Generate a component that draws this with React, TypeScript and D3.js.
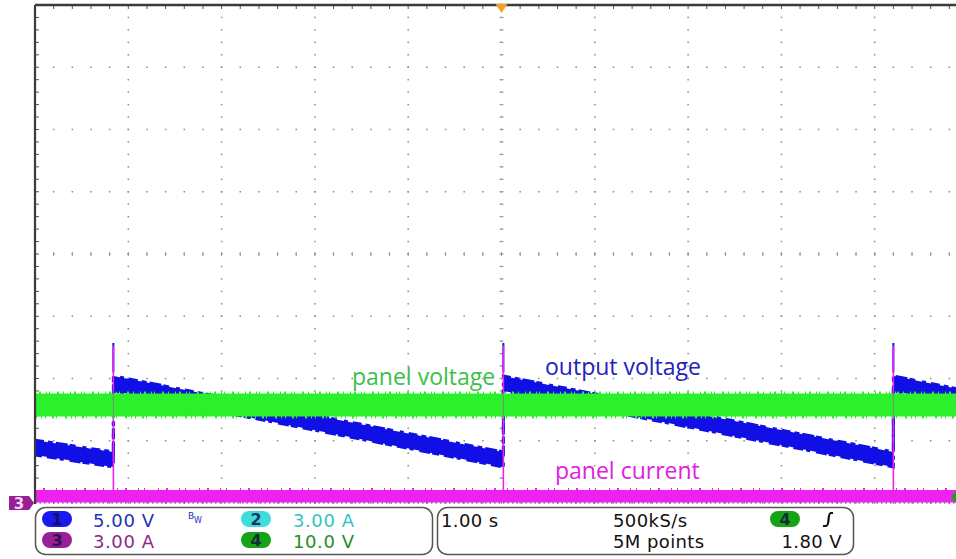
import React from "react";
import * as d3 from "d3";

// ---- data (screen divisions, time in seconds; 1.00 s/div) ----
const resetTimes = [-4.16, 0.02, 4.2];

const outputTime = [-5, -4.16, -4.16, 0.02, 0.02, 4.2, 4.2, 5];
const outputHigh = [-2.99, -3.18, -1.96, -3.18, -1.96, -3.18, -1.96, -2.2];
const outputLow = [-3.23, -3.42, -2.2, -3.42, -2.2, -3.42, -2.2, -2.44];
const outputSpike = -1.43;

const panelVoltageTime = [-5, 5];
const panelVoltageHigh = [-2.24, -2.24];
const panelVoltageLow = [-2.61, -2.61];

const panelCurrentTime = [-5, 5];
const panelCurrentHigh = [-3.79, -3.79];
const panelCurrentLow = [-3.99, -3.99];
const panelCurrentSpike = -1.47;

const channelScales = [
  { ch: "1", label: "5.00 V", fill: "#1a1aee", text: "#2233bb" },
  { ch: "2", label: "3.00 A", fill: "#3fdcdc", text: "#33c4c4" },
  { ch: "3", label: "3.00 A", fill: "#9a1f96", text: "#8c2a88" },
  { ch: "4", label: "10.0 V", fill: "#16a316", text: "#1f8f1f" },
];
const timeBase = "1.00 s";
const sampleRate = "500kS/s";
const recordLength = "5M points";
const triggerLevel = "1.80 V";

// ---- layout ----
const W = 956;
const H = 559;
const PX0 = 35;
const DIVW = 93.3;
const PY0 = 5;
const DIVH = 62.25;

const x = d3.scaleLinear().domain([-5, 5]).range([PX0, PX0 + 10 * DIVW]);
const y = d3.scaleLinear().domain([4, -4]).range([PY0, PY0 + 8 * DIVH]);

const BLUE = "#0f0fe6";
const GREEN = "#2bf02b";
const MAGENTA = "#ee22ee";

function bandPath(t: number[], hi: number[], lo: number[]) {
  const area = d3
    .area<number>()
    .x((i) => x(t[i]))
    .y0((i) => y(lo[i]))
    .y1((i) => y(hi[i]));
  return area(d3.range(t.length)) || "";
}
function edgePath(t: number[], v: number[]) {
  const line = d3
    .line<number>()
    .x((i) => x(t[i]))
    .y((i) => y(v[i]));
  return line(d3.range(t.length)) || "";
}

export default function App() {
  const right = W;
  const bottom = y(-4);
  const dots: JSX.Element[] = [];
  for (let d = -4; d <= 5; d++) {
    const xv = x(d);
    if (xv > right) continue;
    for (let m = 1; m < 40; m++) {
      const yv = y(4 - m / 5);
      dots.push(<rect key={`v${d}_${m}`} x={xv - 0.75} y={yv - 0.75} width={1.5} height={1.5} fill="#8a8a8a" />);
    }
  }
  for (let r = 3; r >= -4; r--) {
    const yv = y(r);
    for (let m = 1; m < 50; m++) {
      const xv = x(-5 + m / 5);
      if (xv > right) continue;
      dots.push(<rect key={`h${r}_${m}`} x={xv - 0.75} y={yv - 0.75} width={1.5} height={1.5} fill="#8a8a8a" />);
    }
  }
  const ticks: JSX.Element[] = [];
  for (let m = 1; m < 40; m++) {
    const yv = y(4 - m / 5);
    ticks.push(<line key={`lt${m}`} x1={PX0} x2={PX0 + 4} y1={yv} y2={yv} stroke="#555" strokeWidth={1} />);
    ticks.push(<line key={`ct${m}`} x1={x(0) - 2} x2={x(0) + 2} y1={yv} y2={yv} stroke="#999" strokeWidth={1} />);
  }
  for (let m = 1; m < 50; m++) {
    const xv = x(-5 + m / 5);
    if (xv > right) continue;
    ticks.push(<line key={`tt${m}`} x1={xv} x2={xv} y1={PY0} y2={PY0 + 4} stroke="#555" strokeWidth={1} />);
    ticks.push(<line key={`cht${m}`} x1={xv} x2={xv} y1={y(0) - 2} y2={y(0) + 2} stroke="#999" strokeWidth={1} />);
  }

  const legendFont = "'DejaVu Sans', Verdana, sans-serif";
  const annFont = "'Open Sans', 'Noto Sans', sans-serif";

  const oval = (cx: number, cy: number, fill: string, label: string) => (
    <g>
      <rect x={cx - 15} y={cy - 8} width={30} height={16} rx={8} fill={fill} />
      <text x={cx} y={cy + 6} textAnchor="middle" fontSize={16} fontWeight="bold" fill="#101040" fontFamily={legendFont} style={{ opacity: 0.8 }}>
        {label}
      </text>
    </g>
  );

  return (
    <svg width={W} height={H} style={{ position: "absolute", left: 0, top: 0, background: "#fff" }}>
      <defs>
        <clipPath id="plot">
          <rect x={PX0} y={PY0} width={right - PX0} height={bottom - PY0 + 2} />
        </clipPath>
      </defs>
      <rect x={0} y={0} width={W} height={H} fill="#fff" />
      {dots}
      {ticks}
      <g clipPath="url(#plot)">
        {/* output voltage (ch1) */}
        {resetTimes.map((t, i) => (
          <line key={`bs${i}`} x1={x(t)} x2={x(t)} y1={y(outputSpike)} y2={y(-1.9)} stroke={BLUE} strokeWidth={2} />
        ))}
        <path d={bandPath(outputTime, outputHigh, outputLow)} fill={BLUE} />
        <path d={edgePath(outputTime, outputHigh)} fill="none" stroke={BLUE} strokeWidth={3} strokeDasharray="9 4 5 3 12 2 6 7 4 5" />
        <path d={edgePath(outputTime, outputLow)} fill="none" stroke={BLUE} strokeWidth={3} strokeDasharray="7 5 10 3 4 6 11 2" />
        {/* panel current (ch3) */}
        {resetTimes.map((t, i) => (
          <line key={`ms${i}`} x1={x(t)} x2={x(t)} y1={y(panelCurrentSpike)} y2={y(-3.8)} stroke={MAGENTA} strokeWidth={1.6} />
        ))}
        <path d={bandPath(panelCurrentTime, panelCurrentHigh, panelCurrentLow)} fill={MAGENTA} />
        <path d={edgePath(panelCurrentTime, panelCurrentHigh)} fill="none" stroke={MAGENTA} strokeWidth={4} strokeDasharray="1 7 2 11 1 5 1 13" />
        {/* panel voltage (ch4) */}
        <path d={bandPath(panelVoltageTime, panelVoltageHigh, panelVoltageLow)} fill={GREEN} />
        <path d={edgePath(panelVoltageTime, panelVoltageHigh)} fill="none" stroke={GREEN} strokeWidth={4} strokeDasharray="1 3 2 5 1 2 1 7 2 4 1 6" />
        <path d={edgePath(panelVoltageTime, panelVoltageLow)} fill="none" stroke={GREEN} strokeWidth={4} strokeDasharray="2 4 1 3 1 6 2 2 1 8" />
        {resetTimes.map((t, i) => (
          <line key={`ms2${i}`} x1={x(t)} x2={x(t)} y1={y(-2.2)} y2={y(-2.65)} stroke="#9a5f9a" strokeWidth={1.2} opacity={0.55} />
        ))}
        <line x1={PX0} x2={right} y1={bottom} y2={bottom} stroke="#6a2a9a" strokeWidth={1} strokeDasharray="1.5 3" />
      </g>
      {/* borders */}
      <line x1={PX0} x2={right} y1={PY0} y2={PY0} stroke="#3a3a3a" strokeWidth={2.4} />
      <line x1={PX0} x2={PX0} y1={PY0} y2={bottom + 1} stroke="#3a3a3a" strokeWidth={2.2} />
      <path d={`M${x(0) - 6},${PY0 - 1} L${x(0) + 6},${PY0 - 1} L${x(0)},${PY0 + 8} Z`} fill="#f3a12a" />
      <path d={`M${W},${bottom - 12} L${W - 5},${bottom - 6} L${W},${bottom} Z`} fill="#16a316" />
      <path d={`M9,${bottom - 7} L29,${bottom - 7} L34,${bottom} L29,${bottom + 7} L9,${bottom + 7} Z`} fill="#9a1f96" />
      <text x={19} y={bottom + 6} textAnchor="middle" fontSize={15} fontWeight="bold" fill="#f4d8f4" fontFamily={legendFont}>3</text>

      {/* annotations */}
      <text x={352} y={385} fontSize={23} fill="#3cbf4a" fontFamily={annFont}>panel voltage</text>
      <text x={545} y={375} fontSize={23} fill="#2222bb" fontFamily={annFont}>output voltage</text>
      <text x={555} y={479} fontSize={23} fill="#e020e0" fontFamily={annFont}>panel current</text>

      {/* readout boxes */}
      <rect x={35.5} y={507.5} width={397} height={47} rx={10} fill="#fff" stroke="#555" strokeWidth={1.5} />
      <rect x={437.5} y={507.5} width={416} height={47} rx={10} fill="#fff" stroke="#555" strokeWidth={1.5} />

      {oval(57, 519, channelScales[0].fill, channelScales[0].ch)}
      <text x={93} y={527} fontSize={18} letterSpacing={0.6} fill={channelScales[0].text} fontFamily={legendFont}>{channelScales[0].label}</text>
      <text x={188} y={519} fontSize={9} fill="#2233bb" fontFamily={legendFont}>B</text>
      <text x={194} y={523} fontSize={8} fill="#2233bb" fontFamily={legendFont}>W</text>
      {oval(256, 519, channelScales[1].fill, channelScales[1].ch)}
      <text x={293} y={527} fontSize={18} letterSpacing={0.6} fill={channelScales[1].text} fontFamily={legendFont}>{channelScales[1].label}</text>
      {oval(57, 540, channelScales[2].fill, channelScales[2].ch)}
      <text x={93} y={548} fontSize={18} letterSpacing={0.6} fill={channelScales[2].text} fontFamily={legendFont}>{channelScales[2].label}</text>
      {oval(256, 540, channelScales[3].fill, channelScales[3].ch)}
      <text x={293} y={548} fontSize={18} letterSpacing={0.6} fill={channelScales[3].text} fontFamily={legendFont}>{channelScales[3].label}</text>

      <text x={441} y={527} fontSize={18} letterSpacing={0.4} fill="#111" fontFamily={legendFont}>{timeBase}</text>
      <text x={613} y={527} fontSize={18} letterSpacing={0.4} fill="#111" fontFamily={legendFont}>{sampleRate}</text>
      <text x={613} y={548} fontSize={18} letterSpacing={0.4} fill="#111" fontFamily={legendFont}>{recordLength}</text>
      {oval(785, 519, channelScales[3].fill, channelScales[3].ch)}
      <path d="M823,526 L826,526 Q828,526 828.5,520 Q829,513 831,513 L833,513" fill="none" stroke="#111" strokeWidth={2.2} />
      <text x={842} y={548} textAnchor="end" fontSize={18} letterSpacing={0.4} fill="#111" fontFamily={legendFont}>{triggerLevel}</text>
    </svg>
  );
}
